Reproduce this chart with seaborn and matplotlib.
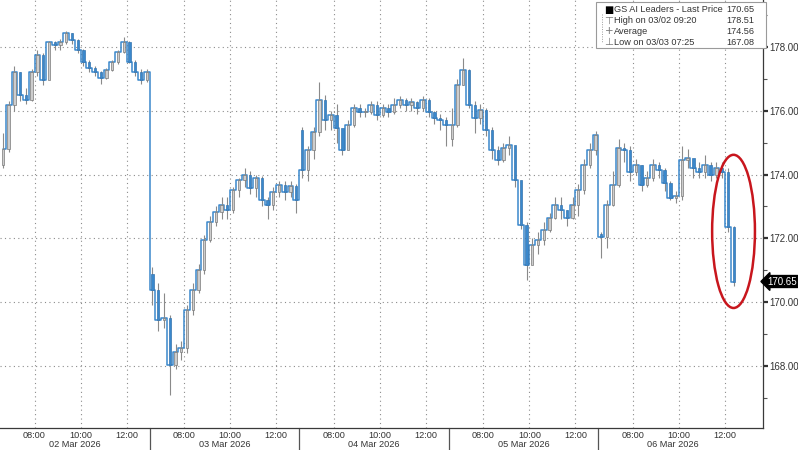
import numpy as np
import pandas as pd
import matplotlib
matplotlib.use("Agg")
import matplotlib.pyplot as plt
import matplotlib.transforms as mtransforms
from matplotlib.patches import Ellipse, Rectangle
import seaborn as sns

# 15 minute bars, session 06:30 - 13:00 (26 bars per day)
days = ["02 Mar 2026", "03 Mar 2026", "04 Mar 2026", "05 Mar 2026", "06 Mar 2026"]
hour_labels = ["08:00", "10:00", "12:00"]
day_open = [174.30, 170.90, 175.40, 175.10, 172.15]

close_02 = [174.80, 176.18, 177.22, 176.50, 176.34, 177.20, 177.75, 176.97, 178.15, 178.06,
            178.15, 178.44, 178.22, 177.90, 177.53, 177.34, 177.22, 177.03, 177.28, 177.53,
            177.84, 178.15, 177.53, 177.22, 176.97, 177.22]
high_02 = [175.30, 176.30, 177.40, 177.20, 176.70, 177.30, 177.90, 177.80, 178.20, 178.20,
           178.25, 178.51, 178.45, 178.25, 177.95, 177.60, 177.40, 177.25, 177.35, 177.60,
           177.90, 178.30, 178.20, 177.60, 177.30, 177.30]
low_02 = [174.20, 174.70, 176.00, 176.30, 176.20, 176.30, 177.10, 176.80, 177.00, 177.90,
          177.90, 178.10, 178.10, 177.80, 177.40, 177.20, 177.10, 176.85, 177.00, 177.25,
          177.45, 177.80, 177.50, 177.10, 176.85, 176.90]

close_03 = [170.38, 169.44, 169.50, 168.03, 168.44, 168.56, 169.76, 170.38, 171.00, 171.95,
            172.51, 172.83, 173.05, 172.90, 173.52, 173.83, 173.99, 173.58, 173.89, 173.20,
            173.05, 173.45, 173.67, 173.45, 173.64, 173.20]
high_03 = [171.10, 170.60, 170.30, 169.60, 168.70, 168.80, 169.90, 170.60, 171.20, 172.10,
           172.70, 173.00, 173.30, 173.30, 173.60, 173.90, 174.20, 174.10, 174.00, 173.95,
           173.30, 173.60, 173.80, 173.80, 173.80, 173.70]
low_03 = [169.90, 169.10, 169.20, 167.08, 167.90, 168.20, 168.40, 169.60, 170.30, 170.90,
          171.90, 172.40, 172.60, 172.60, 172.80, 173.30, 173.60, 173.40, 173.30, 173.00,
          172.60, 172.90, 173.30, 173.20, 173.30, 172.80]

close_04 = [174.14, 174.77, 175.34, 176.34, 175.71, 175.87, 175.46, 174.77, 175.55, 176.09,
            175.96, 175.96, 176.18, 175.87, 176.09, 175.96, 176.18, 176.34, 176.18, 176.28,
            176.09, 176.34, 175.96, 175.77, 175.71, 175.55]
high_04 = [175.50, 174.90, 175.50, 176.90, 176.50, 176.00, 176.20, 175.30, 175.70, 176.20,
           176.20, 176.10, 176.30, 176.30, 176.20, 176.20, 176.40, 176.45, 176.40, 176.40,
           176.30, 176.45, 176.40, 176.00, 175.90, 175.80]
low_04 = [173.90, 173.80, 174.50, 175.20, 175.40, 175.40, 175.00, 174.60, 174.80, 175.50,
          175.80, 175.80, 175.90, 175.70, 175.80, 175.80, 175.90, 176.10, 176.00, 176.00,
          175.90, 176.00, 175.80, 175.60, 175.40, 174.90]

close_05 = [175.55, 176.81, 177.28, 176.18, 175.77, 176.03, 175.40, 174.77, 174.46, 174.83,
            174.93, 173.83, 172.42, 171.17, 171.79, 171.95, 172.26, 172.64, 173.05, 172.89,
            172.64, 173.05, 173.52, 174.30, 174.77, 175.24]
high_05 = [176.10, 177.00, 177.65, 177.30, 176.30, 176.20, 176.10, 175.50, 174.90, 175.00,
           175.20, 174.90, 173.80, 172.50, 172.00, 172.20, 172.50, 172.80, 173.30, 173.30,
           172.90, 173.30, 173.70, 174.50, 175.00, 175.35]
low_05 = [174.90, 175.50, 176.80, 176.10, 175.30, 175.60, 175.20, 174.50, 174.30, 174.40,
          174.60, 173.60, 172.30, 170.70, 171.20, 171.50, 171.80, 172.20, 172.60, 172.60,
          172.40, 172.60, 172.70, 173.40, 174.20, 174.60]

close_06 = [172.04, 173.05, 173.67, 174.83, 174.77, 174.08, 174.30, 173.67, 173.89, 174.30,
            174.14, 173.74, 173.27, 173.33, 174.46, 174.52, 174.20, 174.08, 174.30, 173.99,
            174.20, 174.08, 172.35, 170.65]
high_06 = [172.20, 173.20, 174.10, 175.10, 175.00, 174.90, 174.50, 174.30, 174.10, 174.50,
           174.40, 174.20, 173.80, 173.50, 174.90, 174.80, 174.50, 174.40, 174.60, 174.40,
           174.40, 174.40, 174.20, 172.40]
low_06 = [171.40, 171.70, 173.00, 173.60, 174.40, 173.80, 174.00, 173.50, 173.60, 173.80,
          173.90, 173.50, 173.20, 173.10, 173.20, 174.20, 173.90, 173.90, 173.90, 173.80,
          173.90, 173.90, 172.20, 170.50]

legend_name = "GS AI Leaders - Last Price"
high_time = "03/02 09:20"
low_time = "03/03 07:25"
avg_price = 174.56

closes = [close_02, close_03, close_04, close_05, close_06]
highs = [high_02, high_03, high_04, high_05, high_06]
lows = [low_02, low_03, low_04, low_05, low_06]

rows = []
for d, (c, h, l) in enumerate(zip(closes, highs, lows)):
    for k in range(len(c)):
        o = day_open[d] if k == 0 else c[k - 1]
        rows.append({"x": d * 6.5 + (k + 0.5) * 0.25, "open": o, "close": c[k],
                     "high": h[k], "low": l[k]})
df = pd.DataFrame(rows)
df["up"] = df["close"] >= df["open"]

sns.set_style("white")
plt.rcParams["font.family"] = ["Liberation Sans", "DejaVu Sans"]
txt = "#333333"
fs = 6.6

fig = plt.figure(figsize=(7.98, 4.5), dpi=100)
ax = fig.add_axes([0.0, 1 - 428 / 450, 763 / 798, 428 / 450])

blue = "#3a88cc"
# close line
sns.lineplot(data=df, x="x", y="close", ax=ax, color=blue, lw=1.1,
             drawstyle="steps-mid", zorder=2, legend=False)
# high-low wicks
ax.vlines(df["x"], df["low"], df["high"], color="#8a8a8a", lw=0.8, zorder=3)
# bodies
bw = 0.1
body_lo = df[["open", "close"]].min(axis=1)
body_h = (df["open"] - df["close"]).abs().clip(lower=0.03)
up = df["up"]
ax.bar(df["x"][up], body_h[up], bottom=body_lo[up], width=bw, color="#cdcdcd",
       edgecolor="#7a7a7a", lw=0.5, zorder=4)
ax.bar(df["x"][~up], body_h[~up], bottom=body_lo[~up], width=bw, color=blue,
       edgecolor="#3575b0", lw=0.5, zorder=4)

ax.set_xlim(0.087, 33.15)
ax.set_ylim(166.06, 179.47)

# axes styling
for s in ["top", "left"]:
    ax.spines[s].set_visible(False)
for s in ["bottom", "right"]:
    ax.spines[s].set_color("#3a3a3a")
    ax.spines[s].set_linewidth(0.9)

ax.yaxis.tick_right()
ax.set_yticks(np.arange(168, 179, 2))
ax.set_yticks(np.arange(167, 180, 1), minor=True)
ax.set_yticklabels([f"{v:.2f}" for v in np.arange(168, 179, 2)])
ax.tick_params(axis="y", which="major", direction="out", length=3.5, width=1.6,
               colors=txt, labelsize=fs + 0.4, pad=1)
ax.tick_params(axis="y", which="minor", direction="out", length=3, width=0.8, colors="#555555")

xt, xl = [], []
for d in range(len(days)):
    for i, lab in enumerate(hour_labels):
        xt.append(d * 6.5 + 1.5 + 2 * i)
        xl.append(lab)
ax.set_xticks(xt)
ax.set_xticklabels(xl)
ax.set_xticks(np.arange(0, 33.2, 0.25), minor=True)
ax.tick_params(axis="x", which="major", direction="inout", length=4, width=0.8,
               colors=txt, labelsize=fs, pad=0)
ax.tick_params(axis="x", which="minor", direction="inout", length=2, width=0.6, colors="#777777")
ax.set_xlabel("")
ax.set_ylabel("")

ax.grid(True, which="major", linestyle=(0, (1, 3)), color="#8c8c8c", lw=0.8)

trans = mtransforms.blended_transform_factory(ax.transData, ax.transAxes)
for d in range(len(days)):
    ax.text(d * 6.5 + 3.25, -21 / 428, days[d], transform=trans, ha="center", va="bottom",
            fontsize=fs, color=txt)
    if d > 0:
        ax.plot([d * 6.5, d * 6.5], [0, -0.07], transform=trans, clip_on=False,
                color="#555555", lw=0.9)

# last price tag
last_price = close_06[-1]
ax.annotate(f"{last_price:.2f}", xy=(1.0, last_price), xycoords=("axes fraction", "data"),
            xytext=(3, 0), textcoords="offset points", ha="left", va="center",
            fontsize=fs + 0.4, color="white",
            bbox=dict(boxstyle="larrow,pad=0.1", fc="black", ec="black"))

# red ellipse highlight
ax.add_patch(Ellipse((31.87, 172.22), 1.86, 4.8, fill=False, ec="#c8161d", lw=1.8, zorder=6))

# legend box
ax.add_patch(Rectangle((596 / 763, 1 - 48 / 428), 170 / 763, 46 / 428, transform=ax.transAxes,
                       fc="white", ec="#9a9a9a", lw=0.8, clip_on=False, zorder=7))
ax.plot([602 / 763, 602 / 763], [1 - 14 / 428, 1 - 42 / 428], transform=ax.transAxes,
        ls=(0, (1, 1.5)), color="#9a9a9a", lw=0.7, clip_on=False, zorder=8)
leg_rows = [
    ("\u25a0", legend_name, last_price),
    ("\u22a4", f"High on {high_time}", df["high"].max()),
    ("+", "Average", avg_price),
    ("\u22a5", f"Low on {low_time}", df["low"].min()),
]
for i, (icon, name, val) in enumerate(leg_rows):
    yy = 1 - (10 + 10.7 * i) / 428
    ax.text(609 / 763, yy, icon, transform=ax.transAxes, ha="center", va="center",
            fontsize=7 if i == 0 else 7.5, color="black" if i == 0 else "#777777",
            family=["DejaVu Sans"], zorder=9)
    ax.text(614 / 763, yy, name, transform=ax.transAxes, ha="left", va="center",
            fontsize=fs, color=txt, zorder=9)
    ax.text(754 / 763, yy, f"{val:.2f}", transform=ax.transAxes, ha="right", va="center",
            fontsize=fs, color=txt, zorder=9)

fig.savefig("out.png", dpi=100, facecolor="white")
